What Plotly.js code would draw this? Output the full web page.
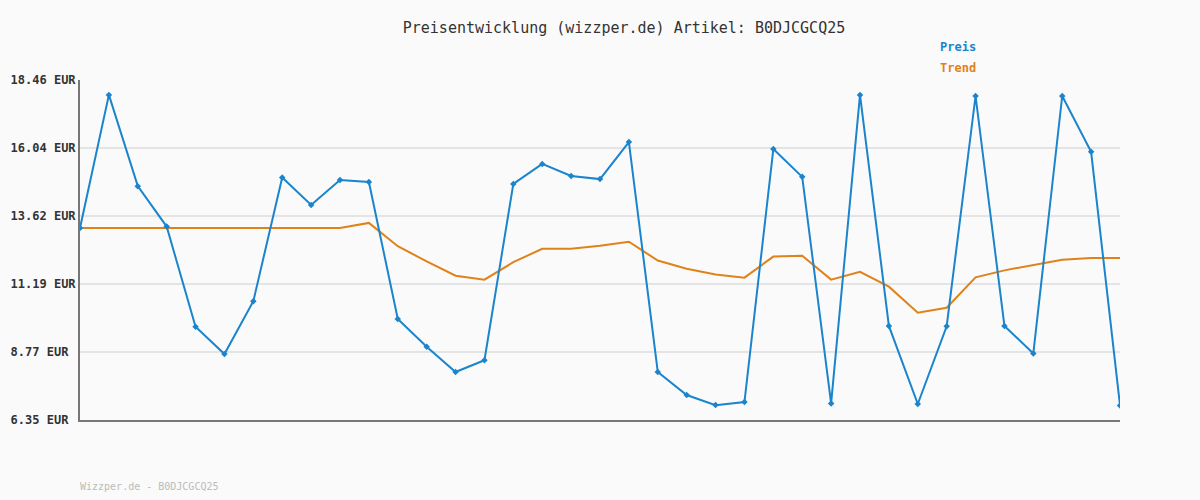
<!DOCTYPE html>
<html>
<head>
<meta charset="utf-8">
<script src="https://cdn.plot.ly/plotly-3.0.1.min.js"></script>
<style>
html,body{margin:0;padding:0;background:#fafafa;}
#chart{width:1200px;height:500px;}
</style>
</head>
<body>
<div id="chart"></div>
<script>
var chartTitle = "Preisentwicklung (wizzper.de) Artikel: B0DJCGCQ25";
var footerText = "Wizzper.de - B0DJCGCQ25";
var seriesNames = ["Preis", "Trend"];
var preis = [13.19, 17.93, 14.68, 13.24, 9.67, 8.70, 10.58, 14.99, 14.01, 14.90, 14.83, 9.95,
             8.96, 8.06, 8.48, 14.76, 15.47, 15.04, 14.93, 16.25, 8.06, 7.24, 6.88, 6.99,
             16.00, 15.01, 6.94, 17.93, 9.70, 6.92, 9.69, 17.89, 9.70, 8.72, 17.89, 15.90, 6.87];
var trend = [13.19, 13.19, 13.19, 13.19, 13.19, 13.19, 13.19, 13.19, 13.19, 13.19, 13.37, 12.54,
             12.00, 11.49, 11.35, 11.97, 12.45, 12.45, 12.56, 12.70, 12.03, 11.74, 11.53, 11.42,
             12.17, 12.20, 11.35, 11.63, 11.10, 10.17, 10.35, 11.43, 11.68, 11.86, 12.06, 12.12, 12.12];
var yTicks = [6.35, 8.77, 11.19, 13.62, 16.04, 18.46];
var yTickLabels = ["6.35 EUR", "8.77 EUR", "11.19 EUR", "13.62 EUR", "16.04 EUR", "18.46 EUR"];

var xs = preis.map(function(_, i){ return i; });
var blue = "#1a84cc", orange = "#e0821a";
var mono = "DejaVu Sans Mono, Liberation Mono, monospace";

// left-align tick labels (monospace) by padding with non-breaking spaces
var maxLen = Math.max.apply(null, yTickLabels.map(function(s){ return s.length; }));
var paddedLabels = yTickLabels.map(function(s){
  var p = s; while (p.length < maxLen) p += "\u00a0"; return p;
});

var traces = [
  {x: xs, y: trend, mode: "lines", name: seriesNames[1], line: {color: orange, width: 2}, hoverinfo: "y"},
  {x: xs, y: preis, mode: "lines+markers", name: seriesNames[0], line: {color: blue, width: 2},
   marker: {symbol: "diamond", size: 5, color: blue}, hoverinfo: "y"}
];

var layout = {
  width: 1200, height: 500,
  paper_bgcolor: "#fafafa", plot_bgcolor: "#fafafa",
  margin: {l: 80, r: 80, t: 80, b: 80},
  showlegend: false,
  title: {text: chartTitle, x: 0.52, xanchor: "center", y: 0.944, yanchor: "middle",
          font: {family: mono, size: 15, color: "#333333"}},
  xaxis: {range: [0, xs.length - 1], showgrid: false, zeroline: false, showticklabels: false,
          ticks: "", showline: true, linecolor: "#777777", linewidth: 2, fixedrange: true},
  yaxis: {range: [yTicks[0], yTicks[yTicks.length - 1]], tickmode: "array", tickvals: yTicks, ticktext: paddedLabels,
          showgrid: true, gridcolor: "#e4e4e4", gridwidth: 2, zeroline: false,
          showline: true, linecolor: "#777777", linewidth: 2, ticks: "", ticklen: 0,
          tickfont: {family: mono, size: 12, color: "#333333", weight: "bold"}, fixedrange: true},
  annotations: [
    {xref: "paper", yref: "paper", x: 0.844, y: 1.097, xanchor: "center", yanchor: "middle", showarrow: false,
     text: "<b>" + seriesNames[0] + "</b>", font: {family: mono, size: 12, color: blue}},
    {xref: "paper", yref: "paper", x: 0.844, y: 1.035, xanchor: "center", yanchor: "middle", showarrow: false,
     text: "<b>" + seriesNames[1] + "</b>", font: {family: mono, size: 12, color: orange}},
    {xref: "paper", yref: "paper", x: -0.002, y: -0.197, xanchor: "left", yanchor: "middle", showarrow: false,
     text: footerText, font: {family: mono, size: 10, color: "#bbbbbb"}}
  ]
};
Plotly.newPlot("chart", traces, layout, {displayModeBar: false, staticPlot: true});
</script>
</body>
</html>
